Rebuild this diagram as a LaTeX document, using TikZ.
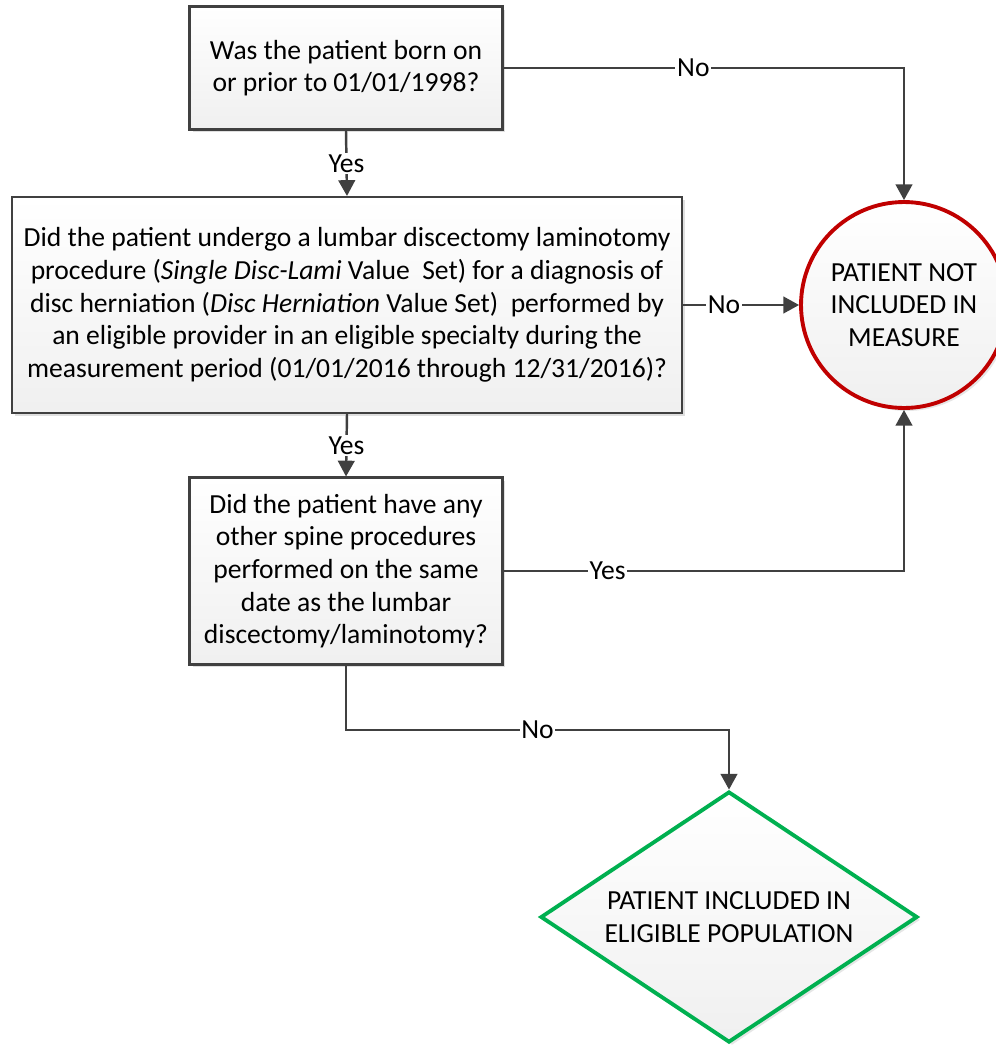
\documentclass[tikz,border=0pt]{standalone}
\usepackage{fontspec}
\setmainfont{Carlito}
\usetikzlibrary{arrows.meta,shapes.geometric,shadows}
\definecolor{linegray}{HTML}{404040}
\definecolor{notred}{HTML}{C00000}
\definecolor{okgreen}{HTML}{00B050}
\begin{document}
\begin{tikzpicture}[x=0.02cm, y=-0.02cm,
        font=\fontsize{15.7}{18.6}\selectfont,
        qbox/.style={draw=linegray, line width=1.2pt, top color=white, bottom color=gray!12,
            drop shadow={opacity=0.25, shadow xshift=0.06cm, shadow yshift=-0.06cm},
            align=center, inner sep=0pt},
        endnode/.style={line width=2.2pt, top color=white, bottom color=gray!12,
            drop shadow={opacity=0.2, shadow xshift=0.06cm, shadow yshift=-0.06cm},
            align=center, inner sep=0pt},
        link/.style={draw=linegray, line width=1.4pt, -{Triangle[length=9pt, width=9.5pt]}},
        lbl/.style={fill=white, inner sep=1pt, text=black}]
    \useasboundingbox (0,0) rectangle (996,1048);

    % questions
    \node[qbox, minimum width=6.26cm, minimum height=2.46cm] (q1) at (346,68)
        {Was the patient born on\\or prior to 01/01/1998?};
    \node[qbox, minimum width=13.42cm, minimum height=4.32cm] (q2) at (347,305)
        {Did the patient undergo a lumbar discectomy laminotomy\\
         procedure (\textit{Single Disc-Lami} Value\ \ Set) for a diagnosis of\\
         disc herniation (\textit{Disc Herniation} Value Set)\ \ performed by\\
         an eligible provider in an eligible specialty during the\\
         measurement period (01/01/2016 through 12/31/2016)?};
    \node[qbox, minimum width=6.26cm, minimum height=3.74cm] (q3) at (346,571)
        {Did the patient have any\\other spine procedures\\performed on the same\\
         date as the lumbar\\discectomy/laminotomy?};

    % outcomes
    \node[endnode, circle, draw=notred, minimum size=4.12cm] (out) at (904,305)
        {PATIENT NOT\\INCLUDED IN\\MEASURE};
    \node[endnode, diamond, draw=okgreen, aspect=1.5, minimum width=7.54cm, minimum height=5.02cm] (inc) at (729,917)
        {PATIENT INCLUDED IN\\ELIGIBLE POPULATION};

    \coordinate (bend) at (346,730);

    % links
    \draw[link] (q1.east) -| node[lbl, pos=0.237] {No} (out.north);
    \draw[link] (q1.south) -- node[lbl] {Yes} (q2.north);
    \draw[link] (q2.east) -- node[lbl, pos=0.35] {No} (out.west);
    \draw[link] (q2.south) -- node[lbl] {Yes} (q3.north);
    \draw[link] (q3.east) -| node[lbl, pos=0.13] {Yes} (out.south);
    \draw[link] (q3.south) -- (bend) -| node[lbl, pos=0.25] {No} (inc.north);
\end{tikzpicture}
\end{document}
